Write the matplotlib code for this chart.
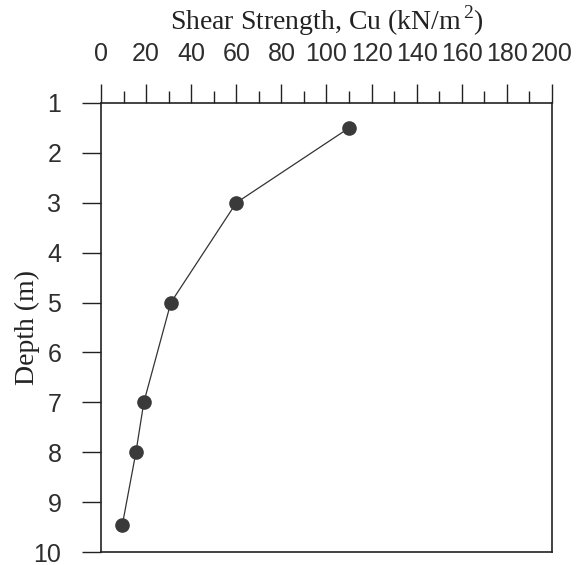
import numpy as np
import matplotlib.pyplot as plt

# undrained shear strength profile
cu = [110, 60, 31, 19, 15.5, 9.5]
depth = [1.5, 3.0, 5.0, 7.0, 8.0, 9.45]

x_major = np.arange(0, 201, 20)
x_minor = np.arange(0, 201, 10)
y_ticks = np.arange(1, 11)

plt.rcParams['font.family'] = ['Liberation Sans', 'DejaVu Sans']
plt.rcParams['mathtext.fontset'] = 'custom'
plt.rcParams['mathtext.rm'] = 'Liberation Serif'

fig = plt.figure(figsize=(5.76, 5.65), dpi=100)
ax = fig.add_axes([0.1753, 0.023, 0.7830, 0.7947])

ax.plot(cu, depth, color='#333333', lw=0.9, marker='o', ms=9.5,
        mfc='#3a3a3a', mec='#3a3a3a')

ax.set_xlim(0, 200)
ax.set_ylim(10, 1)
ax.set_xticks(x_major)
ax.set_xticks(x_minor, minor=True)
ax.set_yticks(y_ticks)

ax.xaxis.tick_top()
ax.tick_params(axis='x', which='major', direction='out', length=13.5, width=1.0,
               pad=13, labelsize=18, color='#222222', labelcolor='#2e2e2e')
ax.tick_params(axis='x', which='minor', direction='out', length=9, width=1.0,
               color='#222222')
ax.tick_params(axis='y', direction='out', length=13.5, width=1.0, pad=15,
               labelsize=18, color='#222222', labelcolor='#2e2e2e')

for s in ax.spines.values():
    s.set_linewidth(1.2)
    s.set_color('#222222')

ax.xaxis.set_label_position('top')
ax.set_xlabel('Shear Strength, Cu (kN/m$^{\\,2}$)', family='Liberation Serif',
              fontsize=20, color='#222222', va='center')
ax.xaxis.set_label_coords(0.5, 1.183)

ax.set_ylabel('Depth (m)', family='Liberation Serif', fontsize=20,
              color='#222222', va='center')
ax.yaxis.set_label_coords(-0.164, 0.5)

fig.savefig('out.png', dpi=100)
